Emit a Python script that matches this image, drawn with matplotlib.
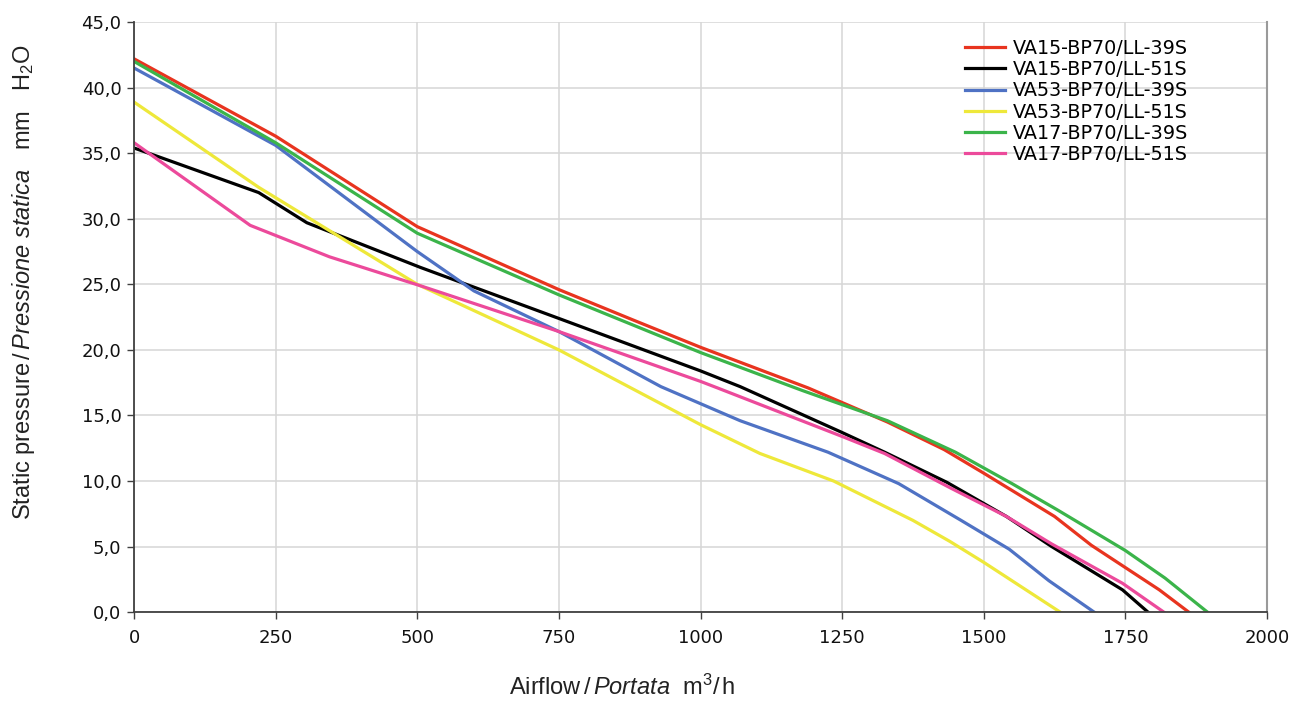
import matplotlib
matplotlib.use("Agg")
import matplotlib.pyplot as plt
from matplotlib.ticker import FuncFormatter, MultipleLocator

plt.rcParams["mathtext.fontset"] = "custom"
plt.rcParams["mathtext.rm"] = "Liberation Sans"
plt.rcParams["mathtext.it"] = "Liberation Sans:italic"

# curves (airflow m3/h, static pressure mm H2O)
va15_39_x = [0, 250, 500, 750, 880, 1000, 1190, 1330, 1430, 1500, 1625, 1690, 1750, 1810, 1862]
va15_39_y = [42.2, 36.3, 29.4, 24.6, 22.3, 20.2, 17.1, 14.5, 12.4, 10.6, 7.3, 5.1, 3.4, 1.7, 0.0]

va15_51_x = [0, 220, 305, 505, 750, 1000, 1070, 1250, 1325, 1435, 1540, 1620, 1745, 1790]
va15_51_y = [35.4, 32.0, 29.7, 26.3, 22.4, 18.4, 17.2, 13.7, 12.2, 9.9, 7.3, 5.0, 1.7, 0.0]

va53_39_x = [0, 250, 500, 600, 750, 930, 1070, 1225, 1350, 1460, 1545, 1615, 1695]
va53_39_y = [41.5, 35.6, 27.5, 24.5, 21.4, 17.2, 14.6, 12.2, 9.8, 7.0, 4.8, 2.4, 0.0]

va53_51_x = [0, 220, 500, 750, 1000, 1105, 1235, 1375, 1440, 1500, 1635]
va53_51_y = [38.9, 32.4, 25.0, 20.0, 14.3, 12.1, 10.0, 7.0, 5.4, 3.8, 0.0]

va17_39_x = [0, 250, 500, 750, 1000, 1180, 1330, 1450, 1550, 1630, 1750, 1820, 1895]
va17_39_y = [42.0, 35.8, 28.9, 24.2, 19.8, 16.9, 14.6, 12.2, 9.8, 7.8, 4.7, 2.6, 0.0]

va17_51_x = [0, 205, 345, 505, 750, 1000, 1030, 1250, 1325, 1440, 1540, 1620, 1745, 1818]
va17_51_y = [35.8, 29.5, 27.1, 24.9, 21.4, 17.6, 17.1, 13.4, 12.1, 9.5, 7.3, 5.2, 2.2, 0.0]

series = [
    ("VA15-BP70/LL-39S", va15_39_x, va15_39_y, "#e8341f"),
    ("VA15-BP70/LL-51S", va15_51_x, va15_51_y, "#000000"),
    ("VA53-BP70/LL-39S", va53_39_x, va53_39_y, "#4f72c4"),
    ("VA53-BP70/LL-51S", va53_51_x, va53_51_y, "#eee83a"),
    ("VA17-BP70/LL-39S", va17_39_x, va17_39_y, "#3bb44a"),
    ("VA17-BP70/LL-51S", va17_51_x, va17_51_y, "#ec4a9b"),
]

fig = plt.figure(figsize=(12.94, 7.02), dpi=100)
ax = fig.add_axes([0.1036, 0.128, 0.8755, 0.8405])

for name, xs, ys, col in series:
    ax.plot(xs, ys, color=col, lw=2.3, label=name, solid_joinstyle="round")

ax.set_xlim(0, 2000)
ax.set_ylim(0, 45)
ax.xaxis.set_major_locator(MultipleLocator(250))
ax.yaxis.set_major_locator(MultipleLocator(5))
ax.yaxis.set_major_formatter(FuncFormatter(lambda v, p: f"{v:.1f}".replace(".", ",")))
ax.xaxis.set_major_formatter(FuncFormatter(lambda v, p: f"{int(v)}"))
ax.grid(True, color="#d6d6d6", lw=1.1)
ax.set_axisbelow(True)

for s in ["left", "bottom"]:
    ax.spines[s].set_color("#404040")
    ax.spines[s].set_linewidth(1.3)
ax.spines["right"].set_color("#9a9a9a")
ax.spines["right"].set_linewidth(1.5)
ax.spines["top"].set_visible(False)
ax.tick_params(axis="both", colors="#404040", labelcolor="#111111", labelsize=13, length=5, width=1)
ax.tick_params(axis="x", pad=7)
ax.tick_params(axis="y", pad=4)

leg = ax.legend(loc="upper left", bbox_to_anchor=(0.7335, 0.972), frameon=False,
                fontsize=13.8, handlelength=2.1, handletextpad=0.42, labelspacing=0.12,
                borderaxespad=0.0, borderpad=0.0)

fig.text(0.481, 0.003,
         r"Airflow$\,$/$\,$$\mathit{Portata}$  m$^3$/$\,$h",
         ha="center", va="bottom", fontsize=17, family="Liberation Sans", color="#222222")
fig.text(0.018, 0.598,
         r"Static pressure$\,$/$\,$$\mathit{Pressione\ statica}$   mm   H$_2$O",
         ha="center", va="center", rotation=90, fontsize=17, family="Liberation Sans", color="#222222")

fig.savefig("out.png", dpi=100)
